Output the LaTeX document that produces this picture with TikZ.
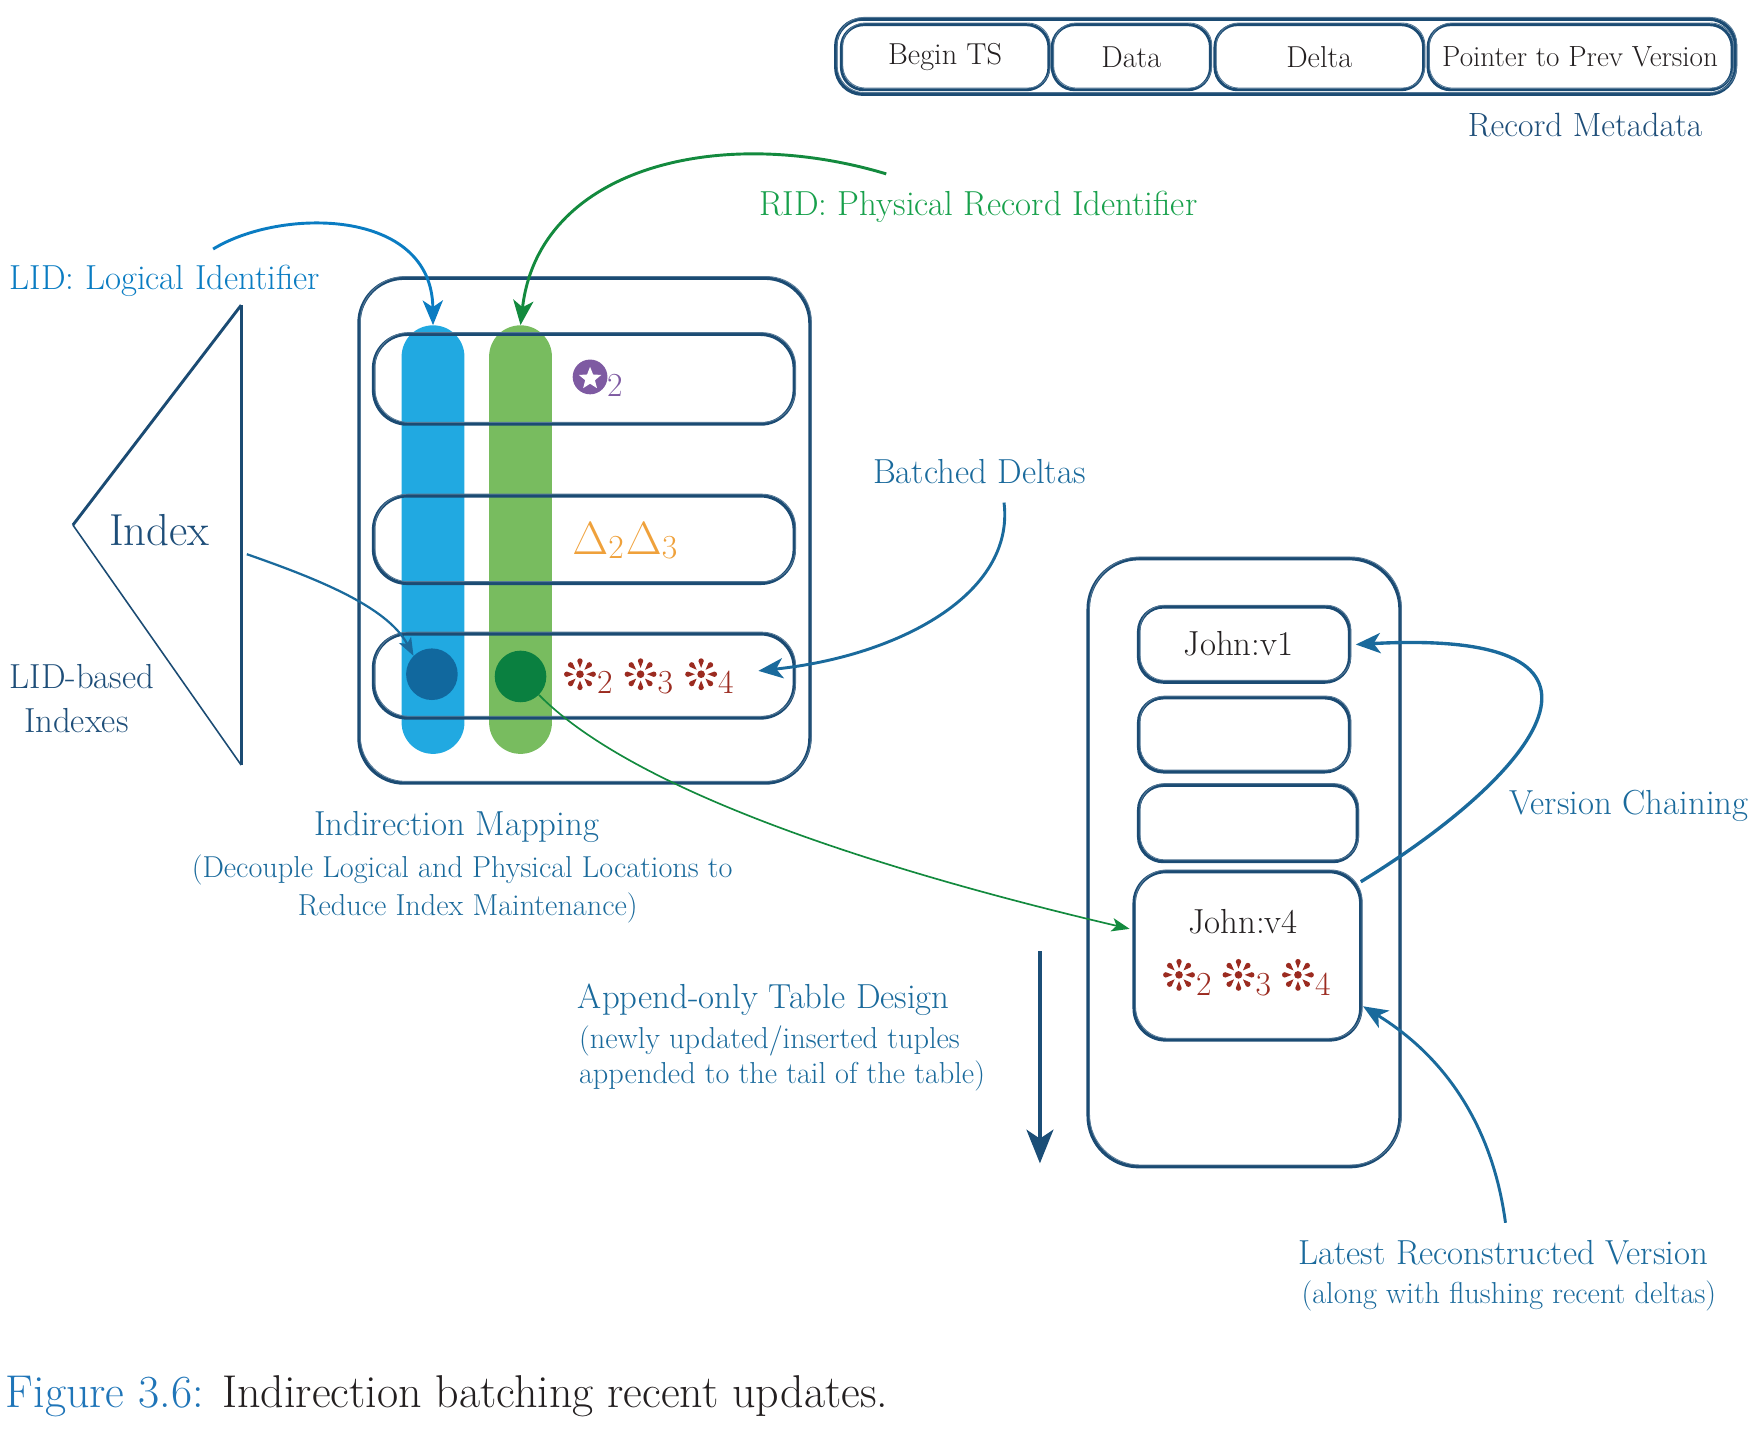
\documentclass[tikz,border=0pt]{standalone}
\usepackage{fontspec}
\usepackage{graphicx}
\usetikzlibrary{arrows.meta,shapes.geometric}
\definecolor{navy}{HTML}{1B4B73}
\definecolor{dblue}{HTML}{1E4E79}
\definecolor{mblue}{HTML}{1A6A9C}
\definecolor{lidblue}{HTML}{0A7CC2}
\definecolor{ridgreen}{HTML}{17A04B}
\definecolor{arrgreen}{HTML}{138A3E}
\definecolor{capblue}{HTML}{1F75B8}
\definecolor{ink}{HTML}{231F20}
\definecolor{barblue}{HTML}{21A9E1}
\definecolor{bargreen}{HTML}{78BC5F}
\definecolor{dotblue}{HTML}{11689E}
\definecolor{dotgreen}{HTML}{0A8040}
\definecolor{purp}{HTML}{7E5AA2}
\definecolor{orng}{HTML}{EFA13B}
\definecolor{rbrown}{HTML}{9B2B20}
\newcommand\bigdelta{\resizebox{32pt}{!}{$\Delta$}}
\begin{document}
\begin{tikzpicture}[x=1pt,y=-1pt,
  sketch/.style={draw=navy, line width=3pt, inner sep=0pt,
    postaction={draw=navy!75, line width=0.8pt, transform canvas={shift={(1.2pt,1.5pt)}}}},
  cell/.style={sketch, line width=2.6pt, rounded corners=20pt, minimum height=58pt,
    font=\fontsize{27}{30}\selectfont, text=ink},
  rowbox/.style={sketch, rounded corners=30pt, minimum width=375pt},
  verbox/.style={sketch, rounded corners=22pt},
  lab/.style={font=\fontsize{31}{36}\selectfont, inner sep=0pt, anchor=base},
  paren/.style={font=\fontsize{27}{30}\selectfont, inner sep=0pt, anchor=base, text=mblue},
  subs/.style={font=\fontsize{30}{33}\selectfont, inner sep=0pt, anchor=base west},
  bar/.style={rounded corners=27.9pt, minimum width=56pt, minimum height=382pt, inner sep=0pt},
  dot/.style={circle, minimum size=46pt, inner sep=0pt},
  bigtip/.style={-{Stealth[length=22pt, width=18pt, inset=6pt]}},
  smalltip/.style={-{Stealth[length=16pt, width=12pt, inset=4pt]}},
  spark/.pic={\fill circle (3.4);
    \foreach \a in {0,45,...,315} {\fill[rotate=\a] (5.6,0) -- (11.8,-2.4) arc(-90:90:2.4) -- cycle;}}
]
\useasboundingbox (0,0) rectangle (1568,1275);

% ---------- record metadata ----------
\node[sketch, rounded corners=24pt, minimum width=802pt, minimum height=67pt] (recbox) at (1146,50.5) {};
\node[cell, minimum width=185pt] (cbegin) at (842.5,51) {Begin TS};
\node[cell, minimum width=141pt] (cdata) at (1008.5,51) {Data};
\node[cell, minimum width=186pt] (cdelta) at (1176,51) {Delta};
\node[cell, minimum width=271pt, font=\fontsize{26}{30}\selectfont] (cptr) at (1408.5,51) {Pointer to Prev Version};
\node[lab, text=dblue, font=\fontsize{30}{34}\selectfont] (recmeta) at (1413,122) {Record Metadata};

% ---------- labels ----------
\node[lab, text=ridgreen] (ridlbl) at (872,192) {RID: Physical Record Identifier};
\node[lab, text=lidblue] (lidlbl) at (147,258) {LID: Logical Identifier};

% ---------- index triangle ----------
\coordinate (ttop) at (215,272);
\coordinate (tapex) at (65,468);
\coordinate (tbot) at (215,682);
\draw[navy, line width=2.6pt] (ttop) -- (tapex);
\draw[navy, line width=1.4pt] (tapex) -- (tbot);
\draw[navy, line width=3pt] (ttop) -- (tbot);
\node[lab, text=dblue, font=\fontsize{40}{44}\selectfont] (idx) at (142,486) {Index};
\node[lab, text=dblue] (lidb1) at (73,614) {LID-based};
\node[lab, text=dblue] (lidb2) at (68,653) {Indexes};

% ---------- indirection mapping ----------
\node[sketch, rounded corners=40pt, minimum width=402pt, minimum height=450pt] (imap) at (521,473) {};
\node[bar, fill=barblue] (lidbar) at (386,481) {};
\node[bar, fill=bargreen] (ridbar) at (464,481) {};
\node[rowbox, minimum height=80pt] (row1) at (520.5,338) {};
\node[rowbox, minimum height=78pt] (row2) at (520.5,481) {};
\node[rowbox, minimum height=75pt] (row3) at (520.5,602.5) {};
\node[dot, fill=dotblue] (bdot) at (385,601) {};
\node[dot, fill=dotgreen] (gdot) at (464,603) {};
% row 1: circled star
\node[circle, fill=purp, minimum size=31pt, inner sep=0pt] (starc) at (526,336) {};
\node[star, star points=5, star point ratio=2.3, fill=white, minimum size=21pt, inner sep=0pt] (starw) at (526,337.5) {};
\node[subs, text=purp] (star2) at (541,353) {2};
% row 2: deltas
\node[inner sep=0pt, anchor=base west, text=orng, font=\fontsize{30}{33}\selectfont] (deltas) at (510,494)
  {\bigdelta\raisebox{-0.3ex}{2}\hspace{2pt}\bigdelta\raisebox{-0.3ex}{3}};
% row 3: teardrop asterisks
\begin{scope}[rbrown]
\pic at (517,601) {spark};
\pic at (571,601) {spark};
\pic at (625,601) {spark};
\end{scope}
\node[subs, text=rbrown] (a2) at (532,618) {2};
\node[subs, text=rbrown] (a3) at (586,618) {3};
\node[subs, text=rbrown] (a4) at (640,618) {4};

\node[lab, text=mblue] (imlbl) at (407,745) {Indirection Mapping};
\node[paren] (im2) at (412,782) {(Decouple Logical and Physical Locations to};
\node[paren] (im3) at (417,816) {Reduce Index Maintenance)};

\node[lab, text=mblue] (batchlbl) at (873,431) {Batched Deltas};

% ---------- table (versions) ----------
\node[sketch, rounded corners=45pt, minimum width=278pt, minimum height=542pt] (tbl) at (1109,769) {};
\node[verbox, minimum width=188pt, minimum height=67pt] (v1) at (1109,574.5) {};
\node[lab, text=ink] (v1t) at (1104,584) {John:v1};
\node[verbox, minimum width=188pt, minimum height=66pt] (v2) at (1109,655) {};
\node[verbox, minimum width=195pt, minimum height=68pt] (v3) at (1112.5,734) {};
\node[verbox, rounded corners=28pt, minimum width=202pt, minimum height=150pt] (v4) at (1112,852) {};
\node[lab, text=ink] (v4t) at (1108,832) {John:v4};
\begin{scope}[rbrown]
\pic at (1051,869) {spark};
\pic at (1104,869) {spark};
\pic at (1157,869) {spark};
\end{scope}
\node[subs, text=rbrown] (b2) at (1066,887) {2};
\node[subs, text=rbrown] (b3) at (1119,887) {3};
\node[subs, text=rbrown] (b4) at (1172,887) {4};

\node[lab, text=mblue] (vclbl) at (1452,726) {Version Chaining};
\node[lab, text=mblue] (latlbl) at (1340,1127) {Latest Reconstructed Version};
\node[paren] (lat2) at (1345,1162) {(along with flushing recent deltas)};

\node[lab, text=mblue, anchor=base west] (applbl) at (515,899) {Append-only Table Design};
\node[paren, anchor=base west] (app2) at (516,935) {(newly updated/inserted tuples};
\node[paren, anchor=base west] (app3) at (516,966) {appended to the tail of the table)};

% ---------- caption ----------
\node[inner sep=0pt, anchor=base west, font=\fontsize{41}{46}\selectfont, text=ink] (caption) at (5,1255)
  {\textcolor{capblue}{Figure 3.6:} Indirection batching recent updates.};

% ---------- connectors ----------
\coordinate (lidstart) at (190,222);
\coordinate (ridstart) at (790,155);
\coordinate (idxout) at (220,494);
\coordinate (batchstart) at (895,448);
\coordinate (batchend) at (676,598);
\coordinate (gend) at (1007,828);
\coordinate (vcstart) at (1213,786);
\coordinate (latstart) at (1342,1090);
\coordinate (latend) at (1215,897);
\coordinate (appstart) at (927,848);
\coordinate (append) at (927,1037);

\draw[lidblue, line width=2.6pt, bigtip] (lidstart) .. controls (250,185) and (385,185) .. (lidbar.north);
\draw[arrgreen, line width=2.6pt, bigtip] (ridstart) .. controls (640,110) and (480,150) .. (ridbar.north);
\draw[mblue, line width=2pt, smalltip] (idxout) .. controls (280,515) and (345,540) .. (bdot.north west);
\draw[mblue, line width=2.6pt, bigtip] (batchstart) .. controls (905,530) and (800,585) .. (batchend);
\draw[arrgreen, line width=1.5pt, smalltip] (gdot.south east) .. controls (560,700) and (760,770) .. (gend);
\draw[mblue, line width=3pt, bigtip] (vcstart) .. controls (1370,690) and (1475,560) .. ([xshift=4pt]v1.east);
\draw[mblue, line width=2.6pt, bigtip] (latstart) .. controls (1330,1000) and (1285,940) .. (latend);
\draw[navy!90!mblue, line width=3pt, -{Stealth[length=30pt, width=24pt, inset=8pt]}] (appstart) -- (append);
\end{tikzpicture}
\end{document}
